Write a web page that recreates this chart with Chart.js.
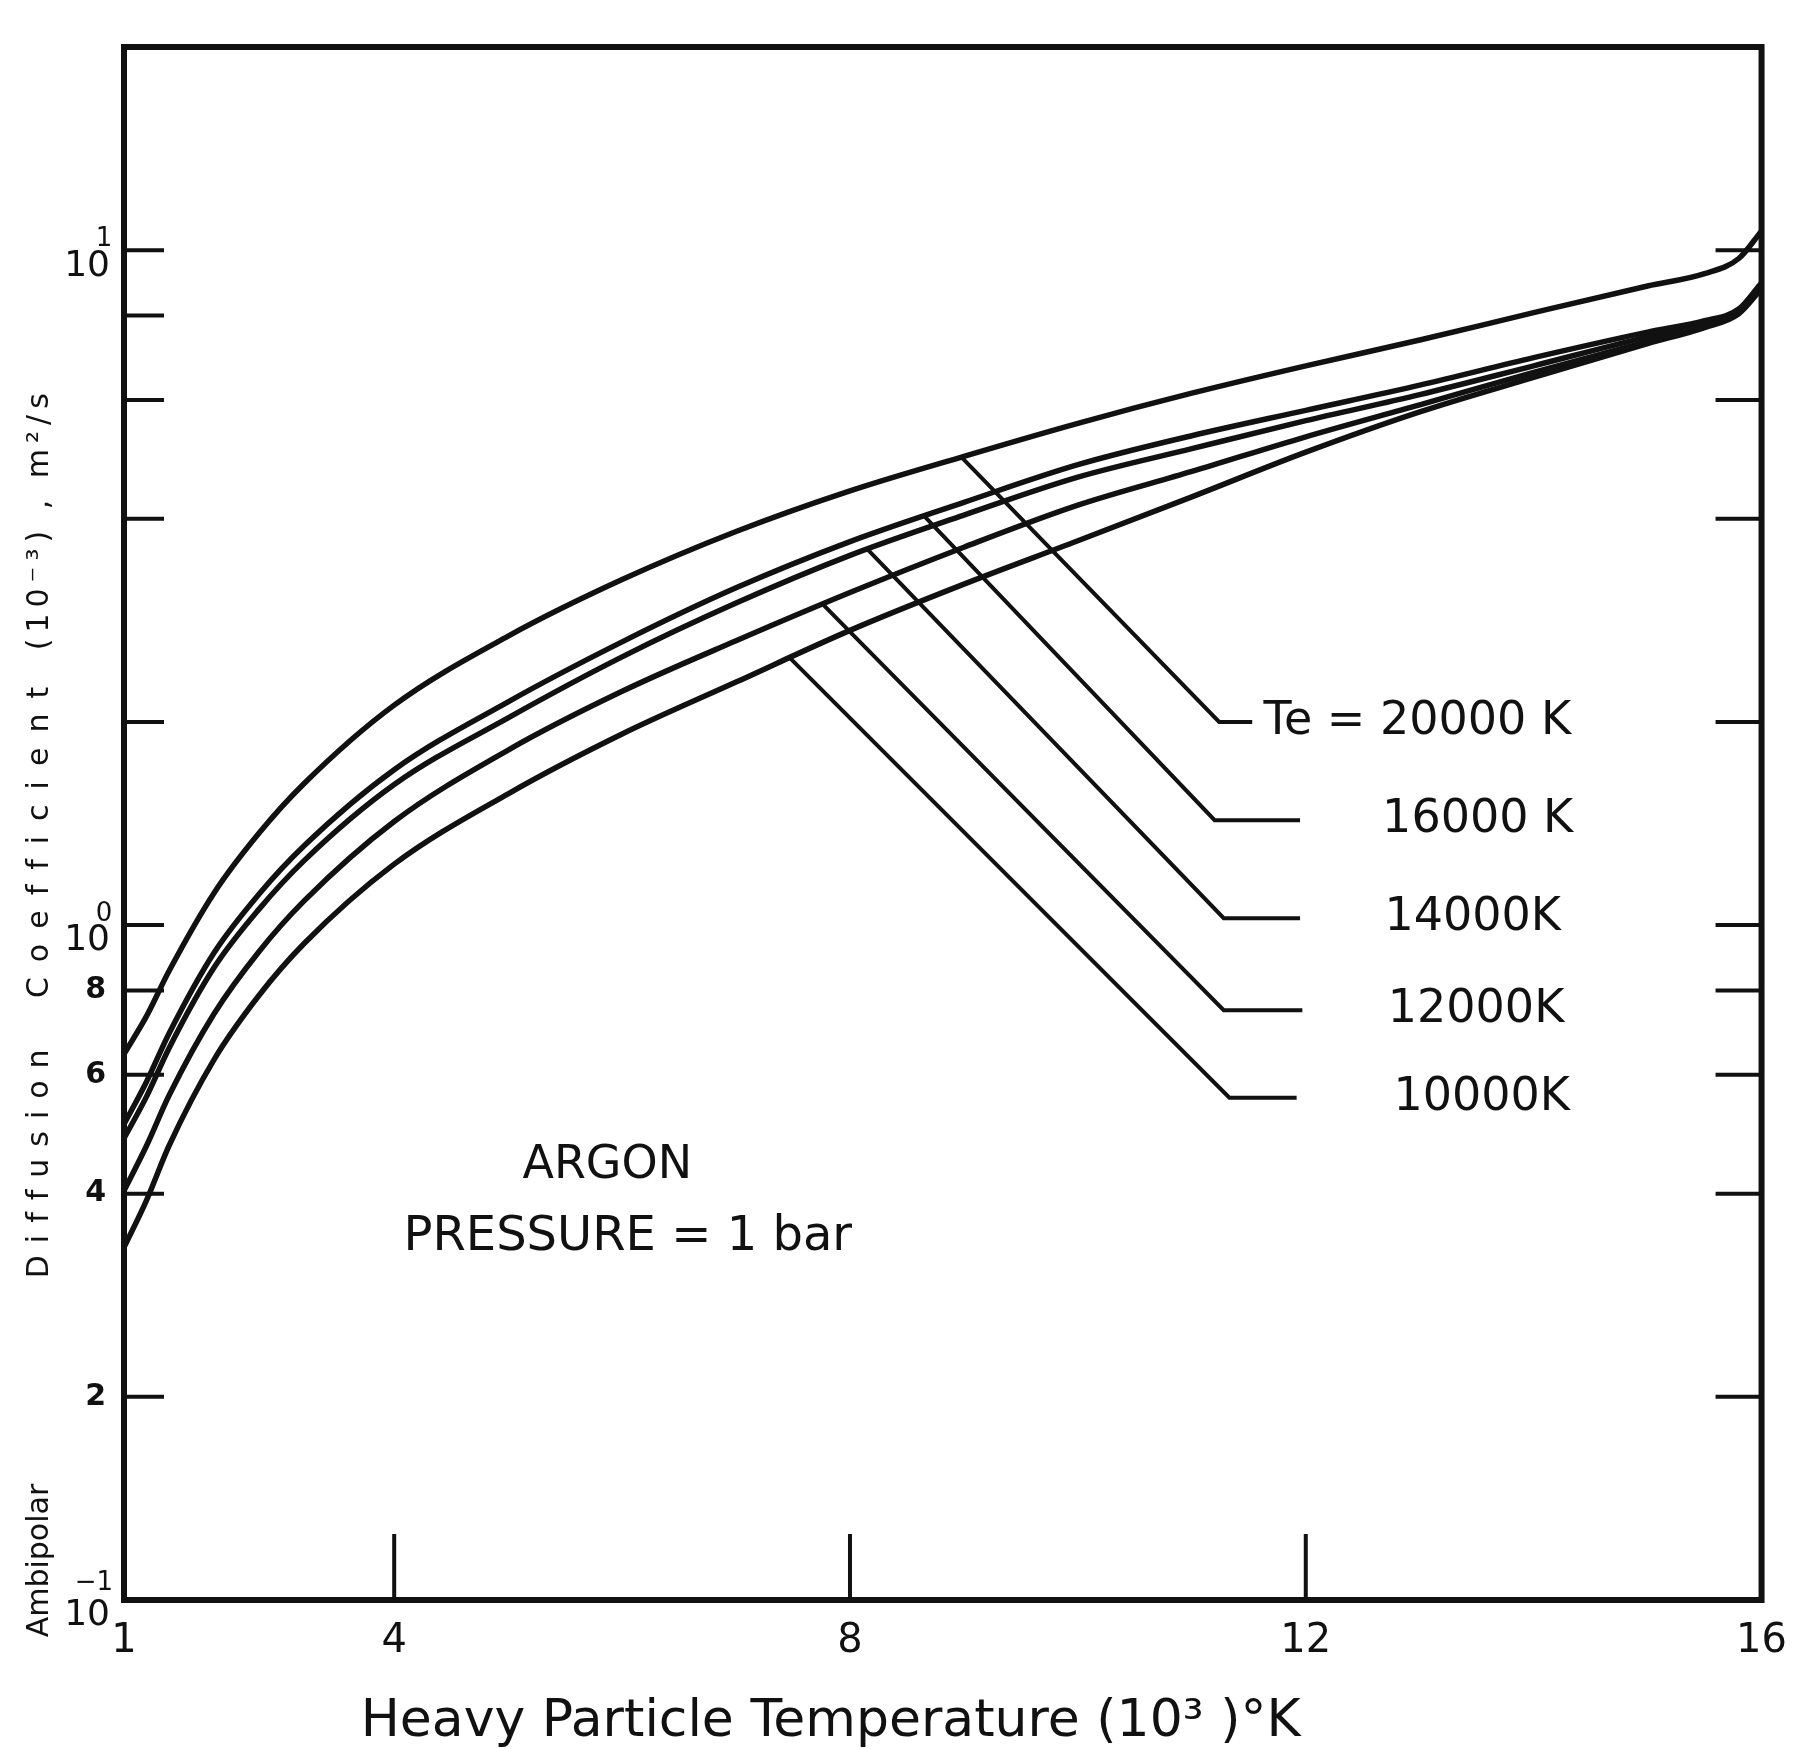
<!DOCTYPE html>
<html>
<head>
<meta charset="utf-8">
<title>Argon - ambipolar diffusion coefficient</title>
<script src="https://cdn.jsdelivr.net/npm/chart.js@4.4.0/dist/chart.umd.min.js"></script>
<style>
  html, body { margin: 0; padding: 0; background: #fff; }
  #wrap { width: 1805px; height: 1749px; }
</style>
</head>
<body>
<div id="wrap"><canvas id="grafico"></canvas></div>
<script>
// heavy particle temperature (10^3 K)
var temperatura = [1, 1.25, 1.5, 2, 2.5, 3, 4, 5, 6, 7, 8, 9, 10, 11, 12, 13, 14, 15, 15.5, 15.8, 16];

// ambipolar diffusion coefficient (10^-3 m2/s), one list per electron temperature
var te20000 = [0.644, 0.733, 0.855, 1.116, 1.369, 1.621, 2.118, 2.68, 3.25, 3.83, 4.40, 4.95, 5.54, 6.14, 6.74, 7.36, 8.08, 8.85, 9.23, 9.72, 10.68];
var te16000 = [0.507, 0.586, 0.691, 0.910, 1.112, 1.311, 1.699, 2.142, 2.628, 3.16, 3.70, 4.23, 4.81, 5.31, 5.79, 6.31, 6.93, 7.56, 7.86, 8.18, 8.95];
var te14000 = [0.483, 0.557, 0.657, 0.865, 1.056, 1.246, 1.615, 2.028, 2.497, 3.00, 3.53, 4.05, 4.61, 5.08, 5.59, 6.11, 6.74, 7.44, 7.77, 8.11, 8.88];
var te12000 = [0.404, 0.471, 0.559, 0.739, 0.914, 1.086, 1.424, 1.817, 2.220, 2.638, 3.11, 3.63, 4.19, 4.70, 5.29, 5.90, 6.59, 7.32, 7.71, 8.08, 8.85];
var te10000 = [0.333, 0.391, 0.471, 0.632, 0.787, 0.939, 1.231, 1.565, 1.919, 2.291, 2.733, 3.20, 3.71, 4.31, 5.02, 5.76, 6.48, 7.27, 7.68, 8.05, 8.77];

var curveNames = ["Te = 20000 K", "16000 K", "14000K", "12000K", "10000K"];

// tick labels
var xTicks = [1, 4, 8, 12, 16];
var yTicks = [0.1, 0.2, 0.4, 0.6, 0.8, 1, 2, 4, 6, 8, 10, 20];
var yMinorLabels = { "0.2": "2", "0.4": "4", "0.6": "6", "0.8": "8" };
var yPowerLabels = [[0.1, "10", "\u22121"], [1, "10", "0"], [10, "10", "1"]];
var rightTicks = [0.2, 0.4, 0.6, 0.8, 1, 2, 4, 6, 10];
var bottomTicks = [4, 8, 12];

// the original x axis is drawn squeezed between 1 and 4
var xBreakValues = [1, 4, 16];
var xBreakFracs = [0, 0.165, 1];

// leader lines: start on the curve, bend, end near the text (data units)
var leaders = [
    { pts: [[8.98, 4.93], [11.24, 2.0], [11.53, 2.0]], textX: 11.63 },
    { pts: [[8.65, 4.04], [11.20, 1.43], [11.95, 1.43]], textX: 12.67 },
    { pts: [[8.15, 3.61], [11.28, 1.024], [11.95, 1.024]], textX: 12.69 },
    { pts: [[7.76, 2.99], [11.28, 0.748], [11.97, 0.748]], textX: 12.72 },
    { pts: [[7.47, 2.49], [11.33, 0.555], [11.92, 0.555]], textX: 12.77 }
];

var FONTE = "'DejaVu Sans', 'Liberation Sans', sans-serif";
var TINTA = "#111";

function paraFracao(v) {
    for (var i = 0; i < xBreakValues.length - 1; i++) {
        var a = xBreakValues[i], b = xBreakValues[i + 1];
        if (v <= b || i === xBreakValues.length - 2) {
            return xBreakFracs[i] + (v - a) / (b - a) * (xBreakFracs[i + 1] - xBreakFracs[i]);
        }
    }
}

function daFracao(f) {
    for (var i = 0; i < xBreakFracs.length - 1; i++) {
        var a = xBreakFracs[i], b = xBreakFracs[i + 1];
        if (f <= b || i === xBreakFracs.length - 2) {
            return xBreakValues[i] + (f - a) / (b - a) * (xBreakValues[i + 1] - xBreakValues[i]);
        }
    }
}

class BrokenLinearScale extends Chart.LinearScale {
    getPixelForValue(value) {
        if (value === null || value === undefined) return NaN;
        return this.getPixelForDecimal(paraFracao(value));
    }
    getValueForPixel(pixel) {
        return daFracao(this.getDecimalForPixel(pixel));
    }
}
BrokenLinearScale.id = "brokenLinear";
BrokenLinearScale.defaults = Chart.LinearScale.defaults;
Chart.register(BrokenLinearScale);

function pontos(serie) {
    return temperatura.map(function (t, i) { return { x: t, y: serie[i] }; });
}

var molduraPlugin = {
    id: "moldura",
    afterDatasetsDraw: function (chart) {
        var ctx = chart.ctx;
        var area = chart.chartArea;
        var sx = chart.scales.x;
        var sy = chart.scales.y;

        ctx.save();
        ctx.strokeStyle = TINTA;
        ctx.fillStyle = TINTA;

        // frame
        ctx.lineWidth = 6;
        ctx.strokeRect(area.left, area.top, area.right - area.left, area.bottom - area.top);

        // inward tick marks
        ctx.lineWidth = 4;
        ctx.beginPath();
        yTicks.forEach(function (v) {
            if (v <= 0.1 || v >= 20) return;
            var py = sy.getPixelForValue(v);
            ctx.moveTo(area.left, py);
            ctx.lineTo(area.left + 40, py);
        });
        rightTicks.forEach(function (v) {
            var py = sy.getPixelForValue(v);
            ctx.moveTo(area.right, py);
            ctx.lineTo(area.right - 46, py);
        });
        bottomTicks.forEach(function (v) {
            var px = sx.getPixelForValue(v);
            ctx.moveTo(px, area.bottom);
            ctx.lineTo(px, area.bottom - 66);
        });
        ctx.stroke();

        // powers of ten on the left axis
        yPowerLabels.forEach(function (p) {
            var py = sy.getPixelForValue(p[0]);
            var longo = p[2].length > 1;
            ctx.font = "36px " + FONTE;
            ctx.textAlign = "right";
            ctx.textBaseline = "middle";
            ctx.fillText(p[1], area.left - 14, py + 16);
            ctx.font = "26px " + FONTE;
            ctx.textAlign = "center";
            ctx.fillText(p[2], area.left - (longo ? 30 : 20), py - (longo ? 17 : 11));
        });

        // curve names
        ctx.font = "46px " + FONTE;
        ctx.textAlign = "left";
        ctx.textBaseline = "middle";
        leaders.forEach(function (l, i) {
            var yv = l.pts[2][1];
            ctx.fillText(curveNames[i], sx.getPixelForValue(l.textX), sy.getPixelForValue(yv));
        });

        // gas and pressure
        ctx.textAlign = "center";
        ctx.font = "46px " + FONTE;
        ctx.fillText("ARGON", sx.getPixelForValue(5.87), sy.getPixelForValue(0.44));
        ctx.font = "48px " + FONTE;
        ctx.fillText("PRESSURE = 1 bar", sx.getPixelForValue(6.05), sy.getPixelForValue(0.344));

        // x axis title
        ctx.font = "52px " + FONTE;
        ctx.fillText("Heavy Particle Temperature (10\u00B3 )\u00B0K", sx.getPixelForValue(7.83), area.bottom + 122);

        // y axis title, rotated, words spread as in the original
        var palavras = [
            ["Ambipolar", 0.1144, 0],
            ["Diffusion", 0.452, 12],
            ["Coefficient", 1.36, 15],
            ["(10\u207B\u00B3) , m\u00B2/s", 4.0, 6]
        ];
        ctx.font = "30px " + FONTE;
        palavras.forEach(function (p) {
            ctx.save();
            if ("letterSpacing" in ctx) ctx.letterSpacing = p[2] + "px";
            ctx.translate(area.left - 84, sy.getPixelForValue(p[1]));
            ctx.rotate(-Math.PI / 2);
            ctx.fillText(p[0], 0, 0);
            ctx.restore();
        });
        ctx.restore();
    }
};

function gerarGrafico() {
    var ctx = document.getElementById("grafico").getContext("2d");

    var series = [te20000, te16000, te14000, te12000, te10000];
    var datasets = series.map(function (s) {
        return {
            data: pontos(s),
            borderColor: TINTA,
            borderWidth: 5.5,
            pointRadius: 0,
            fill: false,
            cubicInterpolationMode: "monotone"
        };
    });
    leaders.forEach(function (l) {
        datasets.push({
            data: l.pts.map(function (p) { return { x: p[0], y: p[1] }; }),
            borderColor: TINTA,
            borderWidth: 4,
            pointRadius: 0,
            fill: false,
            tension: 0
        });
    });

    new Chart(ctx, {
        type: "line",
        data: { datasets: datasets },
        options: {
            responsive: true,
            maintainAspectRatio: false,
            devicePixelRatio: 1,
            animation: false,
            layout: { padding: { top: 47, right: 0, bottom: 0, left: 0 } },
            plugins: { legend: { display: false }, tooltip: { enabled: false } },
            scales: {
                x: {
                    type: "brokenLinear",
                    min: 1,
                    max: 16,
                    grid: { display: false, drawTicks: false },
                    border: { display: false },
                    afterBuildTicks: function (scale) {
                        scale.ticks = xTicks.map(function (v) { return { value: v }; });
                    },
                    afterFit: function (scale) { scale.height = 149; },
                    ticks: {
                        autoSkip: false,
                        maxRotation: 0,
                        padding: 18,
                        color: TINTA,
                        font: { family: FONTE, size: 40 },
                        callback: function (v) { return String(v); }
                    }
                },
                y: {
                    type: "logarithmic",
                    position: "left",
                    min: 0.1,
                    max: 20,
                    grid: { display: false, drawTicks: false },
                    border: { display: false },
                    afterBuildTicks: function (scale) {
                        scale.ticks = yTicks.map(function (v) { return { value: v }; });
                    },
                    afterFit: function (scale) { scale.width = 124; },
                    ticks: {
                        autoSkip: false,
                        padding: 18,
                        color: TINTA,
                        font: { family: FONTE, size: 30, weight: "bold" },
                        callback: function (v) {
                            var t = yMinorLabels[String(v)];
                            return t === undefined ? "" : t;
                        }
                    }
                },
                yRight: {
                    type: "logarithmic",
                    position: "right",
                    min: 0.1,
                    max: 20,
                    grid: { display: false, drawTicks: false },
                    border: { display: false },
                    ticks: { display: false },
                    afterFit: function (scale) { scale.width = 32; }
                }
            }
        },
        plugins: [molduraPlugin]
    });
}

window.onload = gerarGrafico;
</script>
</body>
</html>
